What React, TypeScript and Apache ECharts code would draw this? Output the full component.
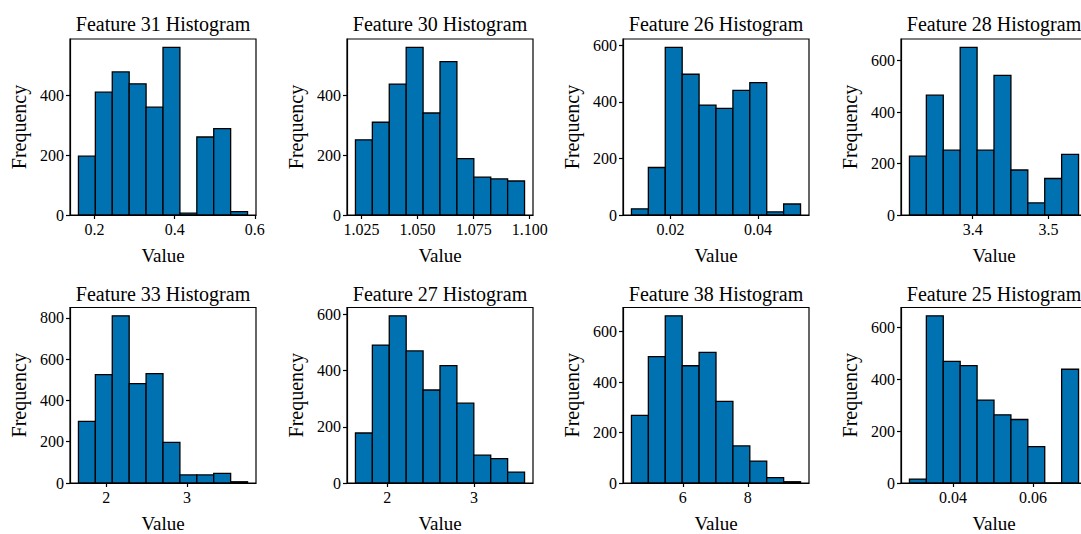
import React, { useEffect, useRef } from "react";
import * as echarts from "echarts";

// ---- data ----
const titles = [
  "Feature 31 Histogram",
  "Feature 30 Histogram",
  "Feature 26 Histogram",
  "Feature 28 Histogram",
  "Feature 33 Histogram",
  "Feature 27 Histogram",
  "Feature 38 Histogram",
  "Feature 25 Histogram",
];

// lowest and highest bin edge of each histogram (10 equal bins)
const binMin = [0.16, 1.0223, 0.0111, 3.3167, 1.657, 1.6355, 4.42, 0.02907];
const binMax = [0.5818, 1.0977, 0.0497, 3.5395, 3.747, 3.58, 9.62, 0.0714];

const counts31 = [197, 411, 479, 439, 361, 561, 6, 261, 289, 11];
const counts30 = [252, 311, 439, 562, 342, 514, 189, 127, 121, 114];
const counts26 = [22, 168, 593, 498, 389, 377, 441, 468, 11, 39];
const counts28 = [229, 466, 252, 652, 252, 543, 175, 47, 142, 236];
const counts33 = [299, 525, 810, 482, 530, 197, 39, 39, 47, 6];
const counts27 = [178, 491, 595, 470, 331, 418, 284, 99, 87, 39];
const counts38 = [268, 501, 663, 465, 518, 324, 147, 87, 21, 5];
const counts25 = [15, 645, 469, 453, 320, 263, 245, 140, 0, 439];
const allCounts = [counts31, counts30, counts26, counts28, counts33, counts27, counts38, counts25];

const xTicks = [
  [0.2, 0.4, 0.6],
  [1.025, 1.05, 1.075, 1.1],
  [0.02, 0.04],
  [3.4, 3.5],
  [2, 3],
  [2, 3],
  [6, 8],
  [0.04, 0.06],
];
const xTickLabels = [
  ["0.2", "0.4", "0.6"],
  ["1.025", "1.050", "1.075", "1.100"],
  ["0.02", "0.04"],
  ["3.4", "3.5"],
  ["2", "3"],
  ["2", "3"],
  ["6", "8"],
  ["0.04", "0.06"],
];
const yTicks = [
  [0, 200, 400],
  [0, 200, 400],
  [0, 200, 400, 600],
  [0, 200, 400, 600],
  [0, 200, 400, 600, 800],
  [0, 200, 400, 600],
  [0, 200, 400, 600],
  [0, 200, 400, 600],
];

const xName = "Value";
const yName = "Frequency";

// ---- layout / style ----
const colLeft = [70, 347, 623, 901];
const rowTop = [39, 307.5];
const gridW = 186;
const gridH = 176;
const titleY = [24.2, 293.8];
const FONT = "'Liberation Serif', 'Times New Roman', serif";
const BAR = "#0072B2";

function fmt(ticks: number[], labels: string[]) {
  return (v: number) => {
    const i = ticks.findIndex((t) => Math.abs(t - v) < 1e-9);
    return i >= 0 ? labels[i] : "";
  };
}

export default function App() {
  const ref = useRef<HTMLDivElement>(null);

  useEffect(() => {
    if (!ref.current) return;
    const chart = echarts.init(ref.current, null, { renderer: "svg" });

    const grids: any[] = [];
    const xAxes: any[] = [];
    const yAxes: any[] = [];
    const series: any[] = [];
    const graphics: any[] = [];

    for (let k = 0; k < 8; k++) {
      const row = Math.floor(k / 4);
      const col = k % 4;
      const lo = binMin[k];
      const hi = binMax[k];
      const range = hi - lo;
      const counts = allCounts[k];
      const maxC = Math.max(...counts);
      const data = counts.map((c, i) => [lo + (range * i) / counts.length, lo + (range * (i + 1)) / counts.length, c]);

      grids.push({
        left: colLeft[col],
        top: rowTop[row],
        width: gridW,
        height: gridH,
        show: true,
        borderColor: "#000",
        borderWidth: 1.2,
        backgroundColor: "transparent",
        containLabel: false,
      });

      xAxes.push({
        type: "value",
        gridIndex: k,
        min: lo - range * 0.05,
        max: hi + range * 0.05,
        name: xName,
        nameLocation: "middle",
        nameGap: 31,
        nameTextStyle: { fontFamily: FONT, fontSize: 19, color: "#000" },
        axisLine: { show: true, onZero: false, lineStyle: { color: "#000", width: 1.2 } },
        axisTick: { show: true, customValues: xTicks[k], length: 4, lineStyle: { color: "#000", width: 1.2 } },
        axisLabel: {
          show: true,
          customValues: xTicks[k],
          formatter: fmt(xTicks[k], xTickLabels[k]),
          fontFamily: FONT,
          fontSize: 16,
          color: "#000",
          margin: 6,
          hideOverlap: false,
        },
        splitLine: { show: false },
      });

      yAxes.push({
        type: "value",
        gridIndex: k,
        min: 0,
        max: maxC * 1.05,
        name: yName,
        nameLocation: "middle",
        nameGap: 41,
        nameTextStyle: { fontFamily: FONT, fontSize: 20, color: "#000" },
        axisLine: { show: true, lineStyle: { color: "#000", width: 1.2 } },
        axisTick: { show: true, customValues: yTicks[k], length: 4, lineStyle: { color: "#000", width: 1.2 } },
        axisLabel: {
          show: true,
          customValues: yTicks[k],
          formatter: (v: number) => String(Math.round(v)),
          fontFamily: FONT,
          fontSize: 16,
          color: "#000",
          margin: 6,
        },
        splitLine: { show: false },
      });

      series.push({
        type: "custom",
        xAxisIndex: k,
        yAxisIndex: k,
        encode: { x: [0, 1], y: 2 },
        data,
        renderItem: (params: any, api: any) => {
          const a = api.coord([api.value(0), 0]);
          const b = api.coord([api.value(1), api.value(2)]);
          return {
            type: "rect",
            shape: { x: a[0], y: b[1], width: b[0] - a[0], height: a[1] - b[1] },
            style: { fill: BAR, stroke: "#000", lineWidth: 1.3 },
          };
        },
      });

      graphics.push({
        type: "text",
        x: colLeft[col] + gridW / 2,
        y: titleY[row],
        style: {
          text: titles[k],
          fontFamily: FONT,
          fontSize: 20,
          fill: "#000",
          align: "center",
          verticalAlign: "middle",
        },
      });
    }

    chart.setOption({
      animation: false,
      backgroundColor: "#fff",
      grid: grids,
      xAxis: xAxes,
      yAxis: yAxes,
      series,
      graphic: graphics,
    });

    return () => chart.dispose();
  }, []);

  return (
    <div style={{ position: "fixed", left: 0, top: 0, width: 1081, height: 534, overflow: "hidden", background: "#fff" }}>
      <div ref={ref} style={{ width: 1100, height: 534 }} />
    </div>
  );
}
